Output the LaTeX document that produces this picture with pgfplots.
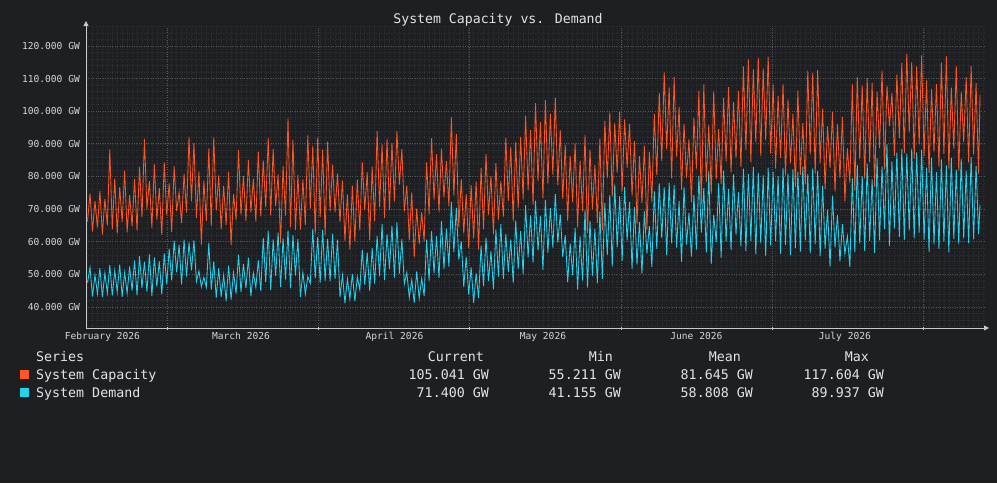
\documentclass[border=0pt]{standalone}
\usepackage{fontspec}
\setmainfont{DejaVu Sans Mono}
\setmonofont{DejaVu Sans Mono}
\usepackage{pgfplots}
\pgfplotsset{compat=1.18}
\usepackage{pgfplotstable}
\usetikzlibrary{arrows.meta}
\definecolor{bg}{RGB}{30,31,34}
\definecolor{capc}{RGB}{255,87,34}
\definecolor{demc}{RGB}{34,211,238}
\definecolor{txt}{RGB}{228,228,228}
\definecolor{tickc}{RGB}{215,215,215}
\definecolor{gmaj}{RGB}{88,89,93}
\definecolor{gmin}{RGB}{48,49,53}
\definecolor{axc}{RGB}{200,200,200}

\pgfplotstableread{
x c d
-3 66.2 47.5
-2.5 74.8 52.1
-2 63.1 43.2
-1.5 72.5 49.8
-1 64.4 44.1
-0.5 75.6 51.9
0 62.2 43.0
0.5 73.1 50.4
1 65.0 44.3
1.5 88.3 52.8
2 63.8 43.5
2.5 79.4 51.2
3 62.5 44.6
3.5 76.7 53.0
4 66.1 43.1
4.5 81.8 50.6
5 62.9 44.2
5.5 74.3 52.4
6 64.7 45.0
6.5 79.2 54.3
7 63.4 43.6
7.5 82.9 55.6
8 67.5 45.8
8.5 91.5 53.9
9 70.1 44.7
9.5 78.6 56.1
10 64.3 43.4
10.5 83.7 55.2
11 66.8 46.3
11.5 76.4 54.0
12 62.1 43.9
12.5 84.3 56.4
13 68.2 47.1
13.5 77.9 57.8
14 63.0 48.2
14.5 83.1 60.3
15 69.4 50.6
15.5 75.2 59.1
16 65.7 46.9
16.5 80.8 60.6
17 68.9 49.3
17.5 92.1 59.8
18 72.4 51.2
18.5 90.2 60.4
19 67.3 47.8
19.5 81.5 51.0
20 59.1 46.2
20.5 78.7 49.1
21 66.4 46.0
21.5 88.6 59.6
22 64.8 45.3
22.5 92.0 54.0
23 69.5 42.8
23.5 80.3 51.9
24 63.9 43.1
24.5 77.1 49.8
25 65.2 41.8
25.5 81.4 52.7
26 59.0 42.3
26.5 74.6 50.5
27 66.7 44.1
27.5 88.1 56.0
28 68.3 44.6
28.5 80.2 53.2
29 66.4 45.8
29.5 85.1 55.1
30 69.0 43.3
30.5 79.3 50.4
31 66.2 46.0
31.5 87.6 54.3
32 67.8 44.9
32.5 84.9 61.2
33 70.5 47.6
33.5 91.8 63.4
34 68.1 45.2
34.5 88.4 60.7
35 70.9 49.5
35.5 80.6 62.8
36 59.6 46.1
36.5 83.2 61.0
37 68.0 48.4
37.5 97.8 63.5
38 64.5 45.7
38.5 91.3 62.1
39 63.6 49.6
39.5 80.4 60.8
40 63.7 43.1
40.5 79.1 50.6
41 65.2 44.0
41.5 92.6 49.3
42 70.1 47.2
42.5 89.4 63.9
43 62.3 48.8
43.5 91.9 61.4
44 67.6 47.5
44.5 88.2 63.6
45 62.0 48.1
45.5 90.7 60.9
46 69.4 47.9
46.5 83.6 62.5
47 69.1 48.6
47.5 80.9 60.6
48 66.0 43.0
48.5 78.8 49.7
49 60.3 41.155
49.5 74.5 48.6
50 57.6 42.5
50.5 77.2 50.1
51 60.1 41.8
51.5 79.0 49.2
52 63.5 45.3
52.5 84.4 57.6
53 69.7 46.8
53.5 81.3 56.7
54 60.4 45.0
54.5 83.0 58.1
55 66.3 47.2
55.5 93.9 61.8
56 70.6 49.5
56.5 89.8 65.4
57 67.2 48.2
57.5 91.5 62.3
58 69.8 51.6
58.5 90.3 64.9
59 72.4 49.0
59.5 93.8 65.9
60 77.5 50.2
60.5 88.4 60.8
61 69.3 47.1
61.5 77.2 50.6
62 60.4 42.9
62.5 75.1 48.3
63 55.211 41.3
63.5 70.2 50.9
64 59.3 42.6
64.5 69.0 48.7
65 60.1 43.4
65.5 84.3 60.6
66 68.4 48.1
66.5 91.7 63.2
67 72.9 50.4
67.5 86.8 61.7
68 69.1 48.9
68.5 88.5 66.3
69 73.6 51.7
69.5 84.7 64.0
70 70.8 52.4
70.5 98.1 72.3
71 74.2 56.8
71.5 93.0 70.4
72 64.5 54.5
72.5 79.2 60.1
73 62.6 46.2
73.5 74.6 55.4
74 58.1 43.8
74.5 77.3 52.1
75 61.0 41.3
75.5 78.4 50.3
76 57.6 42.7
76.5 82.6 58.8
77 63.9 46.4
77.5 86.9 61.3
78 68.3 47.9
78.5 80.2 57.1
79 62.4 45.5
79.5 84.1 63.7
80 66.8 49.3
80.5 78.5 65.4
81 67.7 48.6
81.5 91.8 62.4
82 72.5 50.8
82.5 89.1 60.7
83 66.2 47.4
83.5 90.6 66.5
84 70.4 51.6
84.5 92.1 63.2
85 73.0 50.1
85.5 98.6 71.2
86 75.8 55.2
86.5 94.2 68.1
87 71.4 53.6
87.5 102.5 72.6
88 78.6 57.3
88.5 96.7 67.9
89 73.3 51.4
89.5 103.4 72.8
90 77.9 56.7
90.5 99.2 70.3
91 80.6 58.2
91.5 104.1 74.6
92 77.3 59.7
92.5 94.2 68.4
93 73.1 55.3
93.5 89.7 62.0
94 66.4 47.6
94.5 86.3 59.5
95 72.2 49.8
95.5 90.1 64.2
96 64.5 45.3
96.5 84.8 61.6
97 69.3 48.1
97.5 92.7 69.7
98 62.6 46.0
98.5 88.3 66.4
99 70.1 49.5
99.5 83.5 63.9
100 65.8 47.3
100.5 91.6 69.2
101 63.4 48.6
101.5 97.0 71.8
102 79.5 56.0
102.5 99.6 74.3
103 73.8 52.4
103.5 96.4 77.6
104 81.2 58.3
104.5 99.8 73.9
105 75.6 54.1
105.5 97.5 76.8
106 82.7 60.4
106.5 96.1 72.2
107 74.2 51.7
107.5 90.8 70.6
108 65.3 53.0
108.5 86.2 66.1
109 71.9 50.2
109.5 89.4 69.3
110 63.7 56.4
110.5 87.5 64.8
111 72.3 52.3
111.5 99.1 75.4
112 80.4 57.7
112.5 105.6 77.9
113 84.7 61.1
113.5 111.9 76.7
114 88.3 55.8
114.5 107.3 78.1
115 79.5 59.6
115.5 110.4 77.4
116 86.1 58.2
116.5 101.3 72.5
117 75.9 53.8
117.5 96.2 76.8
118 79.6 59.1
118.5 91.4 68.9
119 72.1 55.4
119.5 98.0 74.3
120 82.4 57.6
120.5 106.3 80.2
121 71.5 62.8
121.5 108.2 76.4
122 78.3 56.7
122.5 95.8 81.6
123 74.6 53.2
123.5 106.1 68.3
124 79.2 59.8
124.5 94.5 77.9
125 77.8 55.1
125.5 104.1 81.8
126 84.6 60.1
126.5 107.4 76.2
127 81.3 57.4
127.5 102.8 80.6
128 85.7 62.2
128.5 106.2 75.3
129 82.9 58.6
129.5 113.7 82.4
130 88.2 57.2
130.5 115.9 80.8
131 84.5 60.3
131.5 112.8 82.9
132 90.6 56.1
132.5 116.4 81.2
133 86.3 59.5
133.5 113.1 80.4
134 91.1 55.7
134.5 116.7 82.7
135 87.0 58.9
135.5 108.1 81.5
136 82.4 60.2
136.5 104.7 80.1
137 85.6 56.3
137.5 108.4 82.6
138 80.3 59.0
138.5 103.6 80.9
139 84.1 55.9
139.5 99.2 82.2
140 76.8 58.1
140.5 106.3 81.4
141 80.5 57.0
141.5 96.4 83.0
142 77.6 60.4
142.5 112.4 80.7
143 86.8 56.4
143.5 111.7 82.5
144 80.9 59.3
144.5 112.6 81.6
145 84.2 55.6
145.5 100.8 77.2
146 76.1 57.9
146.5 95.3 69.8
147 82.6 52.4
147.5 99.7 74.1
148 75.4 58.2
148.5 96.1 68.2
149 79.5 54.0
149.5 98.3 65.4
150 72.4 56.3
150.5 88.6 61.7
151 78.1 52.3
151.5 108.2 79.4
152 75.6 56.8
152.5 110.5 83.6
153 85.2 59.4
153.5 107.9 80.2
154 79.3 57.1
154.5 110.1 83.9
155 84.4 60.3
155.5 108.7 79.1
156 76.9 56.6
156.5 106.0 85.5
157 88.7 60.4
157.5 112.4 83.1
158 82.2 63.9
158.5 107.8 89.937
159 95.4 58.7
159.5 105.6 84.6
160 86.3 64.1
160.5 111.2 87.3
161 91.8 61.5
161.5 114.8 88.4
162 87.1 60.6
162.5 117.604 87.1
163 93.5 63.4
163.5 115.0 88.5
164 85.4 61.0
164.5 113.7 87.4
165 89.9 62.8
165.5 117.1 88.2
166 86.2 60.7
166.5 109.4 82.7
167 81.1 56.9
167.5 106.8 85.8
168 87.6 59.2
168.5 108.3 81.3
169 83.0 57.8
169.5 114.9 85.2
170 86.9 60.2
170.5 116.8 83.4
171 82.4 56.7
171.5 107.2 85.7
172 88.5 60.9
172.5 113.8 82.1
173 81.7 59.3
173.5 105.9 85.4
174 90.6 61.0
174.5 110.4 81.8
175 84.3 59.6
175.5 113.9 85.9
176 86.8 60.8
176.5 108.6 83.2
177 80.9 62.3
177.3 105.041 71.400
}\data

\begin{document}
\begin{tikzpicture}[x=1pt,y=1pt]
\fill[bg] (0,0) rectangle (997,483);
\begin{axis}[
  at={(86pt,155pt)}, anchor=south west,
  width=898pt, height=302pt, scale only axis,
  xmin=-3.31, xmax=178.1, ymin=33.56, ymax=126.1,
  axis lines=left,
  axis line style={axc, line width=0.8pt, shorten >=-5pt, -{Triangle[length=5pt,width=5pt]}},
  axis background/.style={fill=bg},
  xtick={0,28,59,89,120,150},
  xticklabels={February 2026,March 2026,April 2026,May 2026,June 2026,July 2026},
  extra x ticks={13.1,43.65,74.2,104.75,135.3,165.85},
  extra x tick labels={},
  extra x tick style={grid=major, major tick length=3pt, tick style={axc, line width=0.6pt}},
  minor xtick={-3,-2,...,178},
  ytick={40,50,...,120},
  yticklabels={40.000 GW,50.000 GW,60.000 GW,70.000 GW,80.000 GW,90.000 GW,100.000 GW,110.000 GW,120.000 GW},
  minor ytick={34,36,...,126},
  major tick length=0pt, minor tick length=0pt,
  xmajorgrids=false, xminorgrids=true,
  ymajorgrids=true, yminorgrids=true,
  major grid style={gmaj, dotted, line width=0.8pt},
  minor grid style={gmin, dotted, line width=0.5pt},
  tick label style={font=\fontsize{9.6}{10}\selectfont, text=tickc},
  yticklabel style={xshift=-2.6pt},
  xticklabel style={yshift=-1pt},
  clip=true,
]
\addplot[capc, line width=0.85pt] table[x=x,y=c]{\data};
\addplot[demc, line width=0.85pt] table[x=x,y=d]{\data};
\end{axis}
\node[anchor=base, inner sep=0, text=txt, font=\fontsize{13.2}{14}\selectfont] at (498,459) {System Capacity vs. Demand};
\begin{scope}[every node/.style={inner sep=0, text=txt, font=\fontsize{13.3}{14}\selectfont}]
\node[anchor=base west] at (36,122) {Series};
\node[anchor=base east] at (484,122) {Current};
\node[anchor=base east] at (613,122) {Min};
\node[anchor=base east] at (741,122) {Mean};
\node[anchor=base east] at (869,122) {Max};
\fill[capc] (20,104) rectangle (29,113);
\node[anchor=base west] at (36,104) {System Capacity};
\node[anchor=base east] at (489,104) {105.041 GW};
\node[anchor=base east] at (621,104) {55.211 GW};
\node[anchor=base east] at (753,104) {81.645 GW};
\node[anchor=base east] at (884,104) {117.604 GW};
\fill[demc] (20,86) rectangle (29,95);
\node[anchor=base west] at (36,86) {System Demand};
\node[anchor=base east] at (489,86) {71.400 GW};
\node[anchor=base east] at (621,86) {41.155 GW};
\node[anchor=base east] at (753,86) {58.808 GW};
\node[anchor=base east] at (884,86) {89.937 GW};
\end{scope}
\end{tikzpicture}
\end{document}
